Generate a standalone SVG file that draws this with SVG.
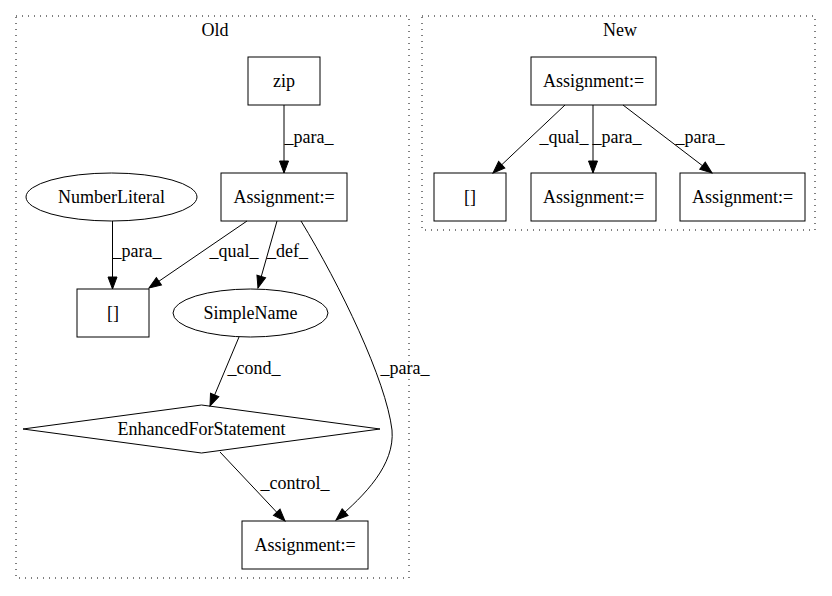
<svg xmlns="http://www.w3.org/2000/svg" width="832" height="596" viewBox="0 0 832 596">
<style>
text{font-family:"Liberation Serif","Times New Roman",serif;font-size:18px;fill:#000;text-anchor:middle}
.node{fill:none;stroke:#000;stroke-width:1}
.cluster{fill:none;stroke:#000;stroke-width:1;stroke-dasharray:1,5}
.edge{fill:none;stroke:#000;stroke-width:1;marker-end:url(#arr)}
</style>
<defs>
<marker id="arr" markerUnits="userSpaceOnUse" markerWidth="14" markerHeight="12" refX="13" refY="6" orient="auto">
<path d="M1,1.5 L13,6 L1,10.5 z" fill="#000" stroke="#000" stroke-width="1"/>
</marker>
</defs>
<rect width="832" height="596" fill="#fff"/>
<g id="cluster_old">
<rect class="cluster" x="16" y="16" width="393" height="562"/>
<text x="215" y="36">Old</text>
</g>
<g id="cluster_new">
<rect class="cluster" x="422" y="16" width="393" height="214"/>
<text x="620" y="36">New</text>
</g>
<g id="connectors">
<path class="edge" d="M284,105 L284,173"/>
<text x="309" y="143">_para_</text>
<path class="edge" d="M112.5,221 L112.5,289"/>
<text x="137" y="257">_para_</text>
<path class="edge" d="M247,221 L149,288"/>
<text x="234" y="257">_qual_</text>
<path class="edge" d="M277,221 L258,288"/>
<text x="287.5" y="257">_def_</text>
<path class="edge" d="M301,221 C340,285 386,380 392,430 C395,465 365,495 336,520"/>
<text x="405" y="374">_para_</text>
<path class="edge" d="M239,337 L210,406"/>
<text x="254" y="374">_cond_</text>
<path class="edge" d="M220,452 L285,521"/>
<text x="295" y="489">_control_</text>
<path class="edge" d="M565,105 L493,173"/>
<text x="564" y="143">_qual_</text>
<path class="edge" d="M593,105 L593,173"/>
<text x="617" y="143">_para_</text>
<path class="edge" d="M623,105 L712,173"/>
<text x="700" y="143">_para_</text>
</g>
<g id="old_zip">
<rect class="node" x="248" y="57" width="72" height="48"/>
<text x="284" y="87">zip</text>
</g>
<g id="old_assign1">
<rect class="node" x="221" y="173" width="126" height="48"/>
<text x="284" y="203">Assignment:=</text>
</g>
<g id="old_numberliteral">
<ellipse class="node" cx="111.5" cy="197" rx="85.5" ry="24"/>
<text x="111.5" y="203">NumberLiteral</text>
</g>
<g id="old_index">
<rect class="node" x="77" y="289" width="72" height="48"/>
<text x="113" y="319">[]</text>
</g>
<g id="old_simplename">
<ellipse class="node" cx="250.5" cy="313" rx="77.5" ry="24"/>
<text x="250.5" y="319">SimpleName</text>
</g>
<g id="old_efs">
<polygon class="node" points="201.5,405 380,429 201.5,453 23,429"/>
<text x="201.5" y="435">EnhancedForStatement</text>
</g>
<g id="old_assign2">
<rect class="node" x="242" y="521" width="126" height="48"/>
<text x="305" y="551">Assignment:=</text>
</g>
<g id="new_assign_top">
<rect class="node" x="531" y="57" width="125" height="48"/>
<text x="593.5" y="87">Assignment:=</text>
</g>
<g id="new_index">
<rect class="node" x="434" y="173" width="72" height="48"/>
<text x="470" y="203">[]</text>
</g>
<g id="new_assign_mid">
<rect class="node" x="531" y="173" width="125" height="48"/>
<text x="593.5" y="203">Assignment:=</text>
</g>
<g id="new_assign_right">
<rect class="node" x="680" y="173" width="125" height="48"/>
<text x="742.5" y="203">Assignment:=</text>
</g>
</svg>
